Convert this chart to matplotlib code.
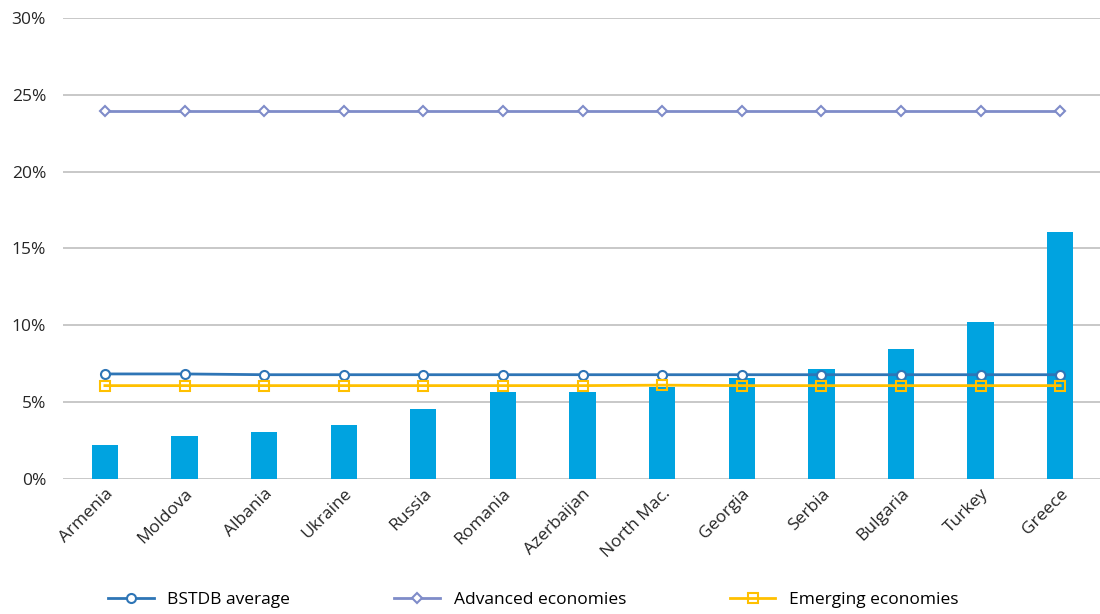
import matplotlib
matplotlib.use("Agg")
import matplotlib.pyplot as plt
import numpy as np
from matplotlib.ticker import PercentFormatter

countries = ["Armenia", "Moldova", "Albania", "Ukraine", "Russia", "Romania",
             "Azerbaijan", "North Mac.", "Georgia", "Serbia", "Bulgaria",
             "Turkey", "Greece"]
values = [2.2, 2.8, 3.05, 3.5, 4.55, 5.66, 5.66, 6.0, 6.55, 7.15, 8.45, 10.2, 16.05]
bstdb_avg = [6.83, 6.83, 6.78, 6.78, 6.78, 6.78, 6.78, 6.78, 6.78, 6.78, 6.78, 6.78, 6.78]
advanced = [23.95] * 13
emerging = [6.07, 6.07, 6.07, 6.07, 6.07, 6.07, 6.07, 6.1, 6.07, 6.07, 6.07, 6.07, 6.07]

plt.rcParams["font.family"] = ["Open Sans", "DejaVu Sans"]

fig = plt.figure(figsize=(11, 6.14), dpi=100)
ax = fig.add_axes([0.057, 0.22, 0.943, 0.751])

x = np.arange(len(countries))
ax.bar(x, values, width=0.33, color="#00A3E0", zorder=2)

ax.plot(x, bstdb_avg, color="#2E75B6", lw=2, marker="o", ms=6.5,
        mfc="white", mec="#2E75B6", mew=1.5, label="BSTDB average", zorder=3)
ax.plot(x, advanced, color="#7F8CC9", lw=2, marker="D", ms=5,
        mfc="white", mec="#7F8CC9", mew=1.5, label="Advanced economies", zorder=3)
ax.plot(x, emerging, color="#FFC000", lw=2, marker="s", ms=6.5,
        mfc="none", mec="#FFC000", mew=1.5, label="Emerging economies", zorder=3)

ax.set_ylim(0, 30)
ax.set_xlim(-0.53, 12.5)
ax.set_yticks(np.arange(0, 31, 5))
ax.yaxis.set_major_formatter(PercentFormatter(decimals=0))
ax.grid(axis="y", color="#BFBFBF", lw=1.2, zorder=0)
for s in ax.spines.values():
    s.set_visible(False)
ax.tick_params(length=0, labelsize=12.5, colors="#262626")
ax.tick_params(axis="y", pad=12)

ax.set_xticks(x)
ax.set_xticklabels(countries, rotation=45, ha="right", rotation_mode="anchor")
ax.tick_params(axis="x", pad=5)

fig.legend(loc="lower center", ncol=3, frameon=False, fontsize=12.5,
           bbox_to_anchor=(0.485, -0.015), columnspacing=6, handlelength=2.6)

fig.savefig("out.png", dpi=100)
